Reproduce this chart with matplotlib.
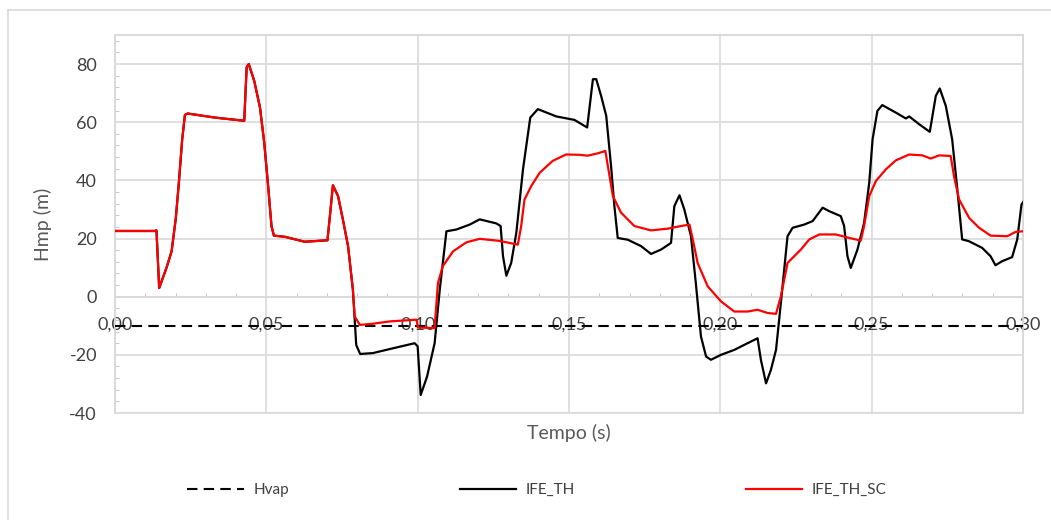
import matplotlib
matplotlib.use('Agg')
import matplotlib.pyplot as plt
from matplotlib.ticker import MultipleLocator, FuncFormatter
from matplotlib.lines import Line2D
from matplotlib.patches import Rectangle

plt.rcParams['font.family'] = ['Lato', 'DejaVu Sans']
plt.rcParams['axes.unicode_minus'] = False

# first part is common to both runs
t_start = [0.0, 0.0130, 0.0137, 0.0146, 0.0170, 0.0187, 0.0201, 0.0211, 0.0222, 0.0231,
           0.0240, 0.0330, 0.0427, 0.0435, 0.0442, 0.0460, 0.0479, 0.0493, 0.0506, 0.0517,
           0.0525, 0.0561, 0.0627, 0.0702, 0.0710, 0.0720, 0.0737, 0.0753, 0.0770, 0.0786]
h_start = [22.6, 22.6, 22.8, 3.0, 9.9, 15.6, 27.1, 39.2, 54.1, 62.5,
           63.0, 61.6, 60.5, 78.9, 80.0, 74.2, 65.1, 53.0, 38.0, 24.3,
           21.0, 20.6, 18.9, 19.4, 27.7, 38.3, 34.6, 26.5, 17.4, 2.4]

# IFE_TH after 0.0786 s
t_th = [0.0797, 0.0810, 0.0852, 0.0908, 0.0990, 0.1000, 0.1010, 0.1031, 0.1056, 0.1073,
        0.1095, 0.1128, 0.1172, 0.1205, 0.1260, 0.1274, 0.1282, 0.1293, 0.1309, 0.1326,
        0.1348, 0.1372, 0.1397, 0.1458, 0.1518, 0.1560, 0.1579, 0.1590, 0.1606, 0.1623,
        0.1639, 0.1650, 0.1661, 0.1694, 0.1738, 0.1771, 0.1804, 0.1837, 0.1848, 0.1865,
        0.1881, 0.1903, 0.1919, 0.1936, 0.1953, 0.1969, 0.2002, 0.2046, 0.2090, 0.2123,
        0.2134, 0.2151, 0.2167, 0.2184, 0.2200, 0.2222, 0.2239, 0.2277, 0.2305, 0.2338,
        0.2360, 0.2398, 0.2409, 0.2420, 0.2431, 0.2453, 0.2475, 0.2492, 0.2503, 0.2519,
        0.2535, 0.2580, 0.2613, 0.2624, 0.2657, 0.2692, 0.2712, 0.2725, 0.2745, 0.2766,
        0.2783, 0.2799, 0.2821, 0.2865, 0.2893, 0.2909, 0.2931, 0.2964, 0.2981, 0.2995,
        0.3000]
h_th = [-16.6, -19.7, -19.4, -18.0, -16.0, -17.1, -33.8, -27.5, -16.0, 2.4,
        22.5, 23.1, 24.8, 26.6, 25.2, 24.3, 13.9, 7.2, 11.6, 22.0,
        43.8, 61.6, 64.5, 62.0, 60.8, 58.2, 74.8, 74.8, 69.1, 62.2,
        44.9, 31.1, 20.2, 19.6, 17.4, 14.7, 16.2, 18.5, 31.1, 34.9,
        30.0, 20.8, 4.7, -13.7, -20.6, -21.7, -20.0, -18.3, -16.0, -14.3,
        -21.7, -29.8, -25.2, -18.3, -2.2, 20.8, 23.7, 24.8, 26.0, 30.6,
        29.4, 27.7, 24.3, 13.9, 9.9, 16.2, 25.4, 39.2, 54.1, 63.9,
        65.9, 63.3, 61.3, 62.0, 59.3, 56.7, 69.1, 71.6, 65.6, 54.1,
        36.9, 19.7, 19.1, 16.8, 13.9, 10.8, 12.2, 13.6, 19.7, 31.7,
        32.5]

# IFE_TH_SC after 0.0786 s
t_sc = [0.0792, 0.0809, 0.0852, 0.0908, 0.0996, 0.1001, 0.1056, 0.1067, 0.1083, 0.1117,
        0.1161, 0.1205, 0.1270, 0.1331, 0.1342, 0.1353, 0.1375, 0.1403, 0.1446, 0.1490,
        0.1535, 0.1562, 0.1595, 0.1620, 0.1634, 0.1645, 0.1672, 0.1716, 0.1771, 0.1826,
        0.1870, 0.1898, 0.1909, 0.1925, 0.1958, 0.2002, 0.2046, 0.2090, 0.2123, 0.2156,
        0.2184, 0.2200, 0.2222, 0.2266, 0.2294, 0.2327, 0.2382, 0.2426, 0.2464, 0.2475,
        0.2492, 0.2514, 0.2547, 0.2580, 0.2624, 0.2668, 0.2695, 0.2723, 0.2761, 0.2772,
        0.2789, 0.2822, 0.2855, 0.2893, 0.2948, 0.2976, 0.3000]
h_sc = [-6.8, -9.7, -9.3, -8.5, -7.9, -10.6, -10.8, 4.7, 10.5, 15.6,
        18.7, 19.9, 19.2, 17.9, 24.3, 33.4, 38.0, 42.6, 46.7, 48.9,
        48.8, 48.5, 49.3, 50.1, 41.5, 34.6, 28.9, 24.3, 22.8, 23.4,
        24.3, 24.8, 19.7, 11.6, 3.6, -1.6, -5.1, -5.1, -4.5, -5.6,
        -5.9, 0.1, 11.6, 16.2, 19.7, 21.4, 21.4, 20.2, 19.3, 24.3,
        34.6, 39.8, 43.8, 46.9, 48.9, 48.6, 47.5, 48.6, 48.4, 41.5,
        33.4, 27.1, 23.7, 21.0, 20.8, 22.3, 22.5]

t_hvap = [0.0, 0.30]
h_hvap = [-10, -10]

grey = '#d9d9d9'

fig = plt.figure(figsize=(10.51, 5.20), dpi=100)
ax = fig.add_axes([115/1051, 1-413/520, 908/1051, 378/520])

ax.plot(t_hvap, h_hvap, color='black', lw=1.5, ls=(0, (5, 3)), label='Hvap', zorder=3)
ax.plot(t_start + t_th, h_start + h_th, color='black', lw=1.6, label='IFE_TH',
        zorder=4, solid_joinstyle='round')
ax.plot(t_start + t_sc, h_start + h_sc, color='#ff0000', lw=1.6, label='IFE_TH_SC',
        zorder=5, solid_joinstyle='round')

ax.set_xlim(0, 0.30)
ax.set_ylim(-40, 90)

ax.xaxis.set_major_locator(MultipleLocator(0.05))
ax.xaxis.set_minor_locator(MultipleLocator(0.01))
ax.yaxis.set_major_locator(MultipleLocator(20))
ax.yaxis.set_minor_locator(MultipleLocator(4))
ax.xaxis.set_major_formatter(FuncFormatter(lambda v, p: f'{v:.2f}'.replace('.', ',')))
ax.yaxis.set_major_formatter(FuncFormatter(lambda v, p: f'{v:.0f}' if v <= 80 else ''))

ax.grid(True, which='major', color=grey, lw=1.2, zorder=0)

# horizontal axis crosses at 0
ax.spines['bottom'].set_position(('data', 0))
ax.spines['bottom'].set_color(grey)
ax.spines['bottom'].set_linewidth(1.2)
for s in ['top', 'right', 'left']:
    ax.spines[s].set_color(grey)
    ax.spines[s].set_linewidth(1.2)
ax.add_patch(Rectangle((0, 0), 1, 1, transform=ax.transAxes, fill=False,
                       edgecolor=grey, lw=1.2, clip_on=False, zorder=1))

ax.tick_params(axis='x', which='major', length=0, pad=14, labelsize=13, labelcolor='#404040')
ax.tick_params(axis='x', which='minor', direction='in', length=3, color='#bfbfbf')
ax.tick_params(axis='y', which='major', length=0, pad=13, labelsize=13, labelcolor='#404040')
ax.tick_params(axis='y', which='minor', direction='in', length=3, color='#bfbfbf')

ax.set_ylabel('Hmp (m)', fontsize=14, color='#595959')
ax.yaxis.set_label_coords(-0.069, 0.5)
ax.text(0.5, -0.053, 'Tempo (s)', transform=ax.transAxes, ha='center', va='center',
        fontsize=14, color='#595959')

leg = fig.legend(loc='center', bbox_to_anchor=(537/1051, 1-490/520), ncol=3,
                 frameon=False, fontsize=11, handlelength=3.7, handletextpad=0.6,
                 columnspacing=11.2)
for txt in leg.get_texts():
    txt.set_color('#404040')

# chart frame
fig.add_artist(Line2D([8/1051, 8/1051], [0, 1-10/520], color=grey, lw=1.2))
fig.add_artist(Line2D([8/1051, 1], [1-10/520, 1-10/520], color=grey, lw=1.2))

fig.savefig('out.png', dpi=100)
